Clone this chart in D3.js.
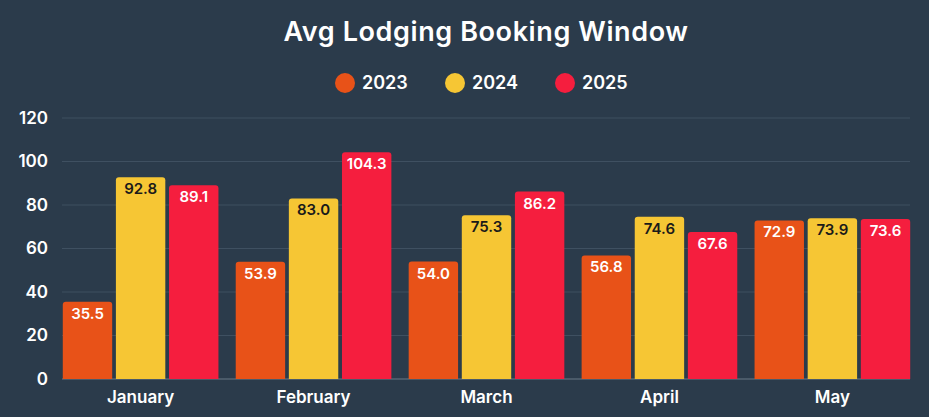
<!DOCTYPE html>
<html><head><meta charset="utf-8">
<script src="https://cdn.jsdelivr.net/npm/d3@7"></script>
<style>body{margin:0;background:#2b3b4b;}svg{display:block}</style>
</head><body>
<svg id="c" width="929" height="417"></svg>
<script>
const categories = ["January","February","March","April","May"];
const seriesNames = ["2023","2024","2025"];
const values2023 = [35.5,53.9,54.0,56.8,72.9];
const values2024 = [92.8,83.0,75.3,74.6,73.9];
const values2025 = [89.1,104.3,86.2,67.6,73.6];
const yTicks = [0,20,40,60,80,100,120];
const colors = ["#e85218","#f6c634","#f51e3e"];
const labelColors = ["#ffffff","#1a1a1a","#ffffff"];
const series = [values2023,values2024,values2025];

const svg = d3.select("#c");
const font = "Inter, 'Open Sans', sans-serif";
const x = d3.scaleBand().domain(categories).range([55,918]).paddingInner(0.1).paddingOuter(0.045);
const xs = d3.scaleBand().domain(seriesNames).range([0,x.bandwidth()]).paddingInner(0.07);
const y = d3.scaleLinear().domain([0,120]).range([379,118]);

svg.append("g").selectAll("line").data(yTicks).join("line")
  .attr("x1",62).attr("x2",910).attr("y1",d=>y(d)).attr("y2",d=>y(d))
  .attr("stroke",d=>d===0?"#6b7a88":"#3f5061").attr("stroke-width",1);
svg.append("g").selectAll("text").data(yTicks).join("text")
  .attr("x",48).attr("y",d=>y(d)).attr("dy","0.35em").attr("text-anchor","end")
  .attr("fill","#fff").attr("font-family",font).attr("font-weight",600).attr("font-size",17).text(d=>d);

categories.forEach((c,i)=>{
  series.forEach((s,j)=>{
    const bx = x(c)+xs(seriesNames[j]), v=s[i];
    svg.append("path").attr("fill",colors[j])
      .attr("d",()=>{const w=xs.bandwidth(),t=y(v),b=y(0),r=3;
        return `M${bx},${b}V${t+r}Q${bx},${t} ${bx+r},${t}H${bx+w-r}Q${bx+w},${t} ${bx+w},${t+r}V${b}Z`;});
    svg.append("text").attr("x",bx+xs.bandwidth()/2).attr("y",y(v)+17)
      .attr("text-anchor","middle").attr("fill",labelColors[j]).attr("font-family",font)
      .attr("font-weight",600).attr("font-size",15).text(v.toFixed(1));
  });
});
svg.append("g").selectAll("text").data(categories).join("text")
  .attr("x",d=>x(d)+x.bandwidth()/2).attr("y",403).attr("text-anchor","middle")
  .attr("fill","#fff").attr("font-family",font).attr("font-weight",600).attr("font-size",17).text(d=>d);

svg.append("text").attr("x",486).attr("y",41).attr("text-anchor","middle").attr("fill","#fff")
  .attr("font-family",font).attr("font-weight",600).attr("font-size",27).attr("letter-spacing",0.6).text("Avg Lodging Booking Window");
const lx=[345,455,565];
seriesNames.forEach((n,j)=>{
  svg.append("circle").attr("cx",lx[j]).attr("cy",83).attr("r",10).attr("fill",colors[j]);
  svg.append("text").attr("x",lx[j]+17).attr("y",83).attr("dy","0.35em").attr("fill","#fff")
    .attr("font-family",font).attr("font-weight",600).attr("font-size",18).text(n);
});
</script>
</body></html>
